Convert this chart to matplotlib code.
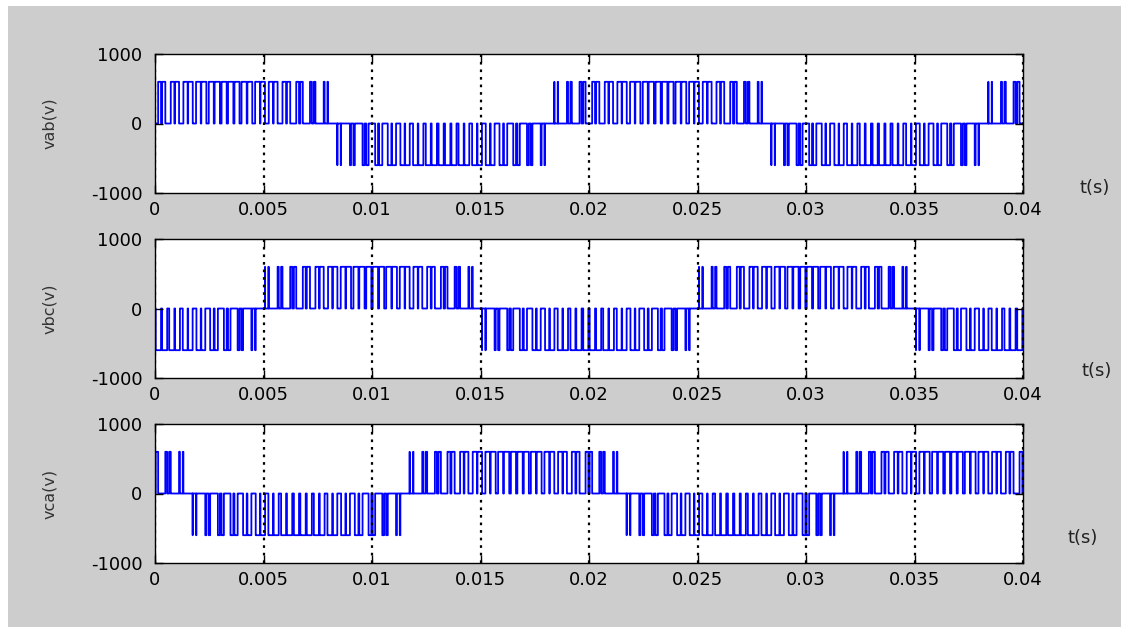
import numpy as np
import matplotlib
matplotlib.use("Agg")
import matplotlib.pyplot as plt
from matplotlib.patches import Rectangle

# Sinusoidal PWM inverter settings
f_fund = 50.0          # fundamental frequency (Hz)
f_carrier = 1650.0     # triangular carrier frequency (Hz), mf = 33
m_index = 0.92         # modulation index
v_dc = 600.0           # DC link voltage (V)
t_end = 0.04

# Line-to-line signals: name and the two phase reference angles (deg)
line_names = ["vab(v)", "vbc(v)", "vca(v)"]
phase_pairs = [(0.0, -120.0), (-120.0, 120.0), (120.0, 0.0)]

x_ticks = [0, 0.005, 0.01, 0.015, 0.02, 0.025, 0.03, 0.035, 0.04]
x_tick_labels = ["0", "0.005", "0.01", "0.015", "0.02", "0.025", "0.03", "0.035", "0.04"]
y_ticks = [-1000, 0, 1000]
y_tick_labels = ["-1000", "0", "1000"]

t = np.linspace(0.0, t_end, 320001)
carrier = 2.0 * np.abs(2.0 * ((t * f_carrier) % 1.0) - 1.0) - 1.0


def leg_state(angle_deg):
    ref = m_index * np.sin(2 * np.pi * f_fund * t + np.deg2rad(angle_deg))
    return (ref > carrier).astype(float)


W, H = 1121, 627
fig = plt.figure(figsize=(W / 100, H / 100), dpi=100)
fig.patch.set_facecolor("white")
fig.patches.append(Rectangle((8 / W, 0), 1 - 8 / W, 1 - 6 / H,
                             transform=fig.transFigure, facecolor="#cdcdcd",
                             edgecolor="none", zorder=-10))

ax_left = 155 / W
ax_width = (1023 - 155) / W
ax_tops = [54, 239, 424]
ax_h = 139
tlabel_pos = [(1095, 188), (1097, 371), (1083, 538)]

for i, (name, (pa, pb)) in enumerate(zip(line_names, phase_pairs)):
    top = ax_tops[i]
    ax = fig.add_axes([ax_left, 1 - (top + ax_h) / H, ax_width, ax_h / H])
    ax.set_facecolor("white")
    v_line = v_dc * (leg_state(pa) - leg_state(pb))
    ax.plot(t, v_line, color="#0000ff", lw=1.3, drawstyle="steps-post")
    ax.set_xlim(0, t_end)
    ax.set_ylim(-1000, 1000)
    ax.set_xticks(x_ticks)
    ax.set_xticklabels(x_tick_labels)
    ax.set_yticks(y_ticks)
    ax.set_yticklabels(y_tick_labels)
    ax.tick_params(direction="in", length=6, width=1, top=True, right=True,
                   labelsize=13, colors="black", pad=6)
    ax.tick_params(axis="y", pad=9)
    ax.xaxis.grid(True, color="black", linestyle=(0, (1.2, 2.2)), linewidth=1.6)
    ax.set_axisbelow(False)
    for sp in ax.spines.values():
        sp.set_linewidth(1.0)
        sp.set_color("black")
    ax.set_ylabel(name, fontsize=11.5, color="#333333", labelpad=8)
    ax.yaxis.set_label_coords(-(155 - 57) / (1023 - 155), 0.5)
    tx, ty = tlabel_pos[i]
    fig.text(tx / W, 1 - ty / H, "t(s)", fontsize=13, ha="center", va="center",
             color="#222222")

fig.savefig("out.png", dpi=100, facecolor=fig.get_facecolor())
